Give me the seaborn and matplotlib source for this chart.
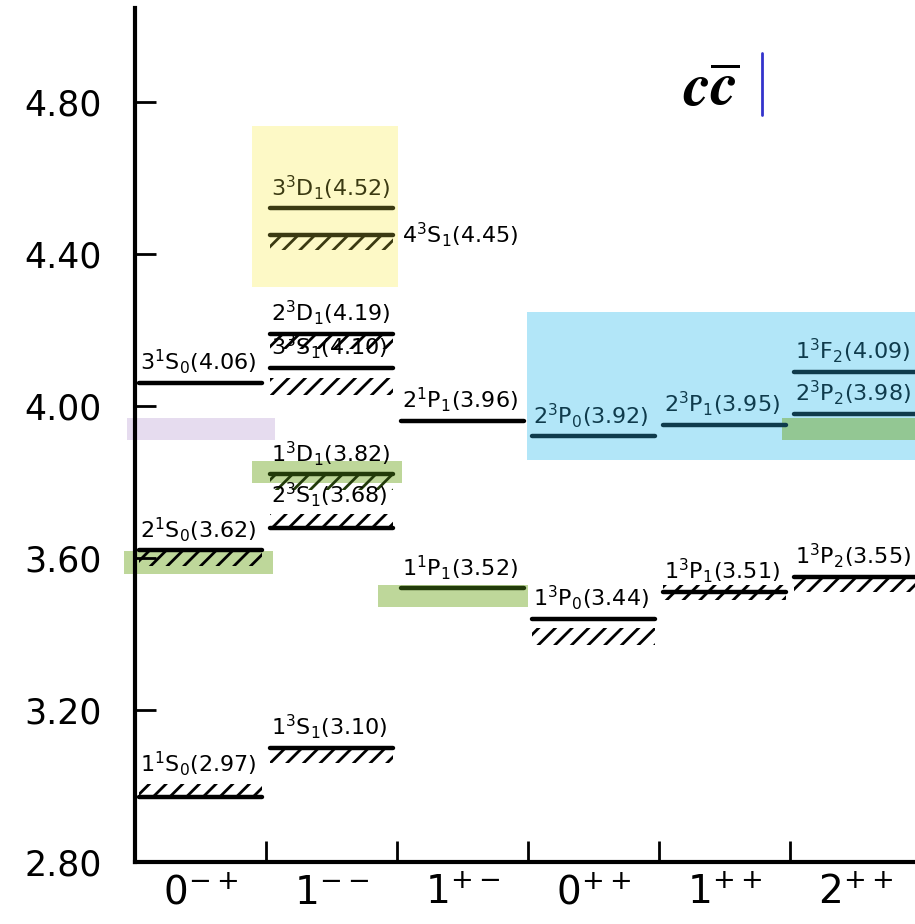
import pandas as pd
import seaborn as sns
import matplotlib.pyplot as plt
from matplotlib.patches import Rectangle

# J^PC columns of the level diagram
columns = ["0^{-+}", "1^{--}", "1^{+-}", "0^{++}", "1^{++}", "2^{++}"]

# charmonium states, predicted masses (GeV) and the column they sit in
states = ["1^1S_0", "2^1S_0", "3^1S_0",
          "1^3S_1", "2^3S_1", "1^3D_1", "3^3S_1", "2^3D_1", "4^3S_1", "3^3D_1",
          "1^1P_1", "2^1P_1",
          "1^3P_0", "2^3P_0",
          "1^3P_1", "2^3P_1",
          "1^3P_2", "2^3P_2", "1^3F_2"]
masses = [2.97, 3.62, 4.06,
          3.10, 3.68, 3.82, 4.10, 4.19, 4.45, 4.52,
          3.52, 3.96,
          3.44, 3.92,
          3.51, 3.95,
          3.55, 3.98, 4.09]
column_of = [0, 0, 0,
             1, 1, 1, 1, 1, 1, 1,
             2, 2,
             3, 3,
             4, 4,
             5, 5, 5]
# hatching drawn with the level (observed states)
hatching = ["above", "below", None,
            "below", "above", "below", "gap", "below", "below", None,
            None, None,
            "gap", None,
            "cross", None,
            "below", None, None]
yticks = [2.80, 3.20, 3.60, 4.00, 4.40, 4.80]

# coloured highlight boxes: x0, x1, y0, y1, fill, ink for marks inside
highlights = [
    (0.893, 2.008, 4.313, 4.737, "#fdf9c6", "#3b3a12"),
    (-0.061, 1.069, 3.911, 3.968, "#e6dcef", None),
    (2.992, 5.954, 3.858, 4.247, "#b2e6f8", "#0f3b4c"),
    (0.893, 2.038, 3.797, 3.855, "#bed79a", "#223b0a"),
    (-0.084, 1.053, 3.558, 3.618, "#bed79a", "#223b0a"),
    (1.855, 3.000, 3.471, 3.529, "#bed79a", "#223b0a"),
    (4.939, 5.954, 3.911, 3.968, "#93c793", None),
]


def ink_at(x, y):
    ink = "black"
    for x0, x1, y0, y1, _, c in highlights:
        if c and x0 <= x <= x1 and y0 <= y <= y1:
            ink = c
    return ink


sns.set_style("white")
plt.rcParams["font.family"] = ["DejaVu Sans"]
plt.rcParams["hatch.linewidth"] = 2.0
plt.rcParams["text.color"] = "black"
plt.rcParams["xtick.color"] = "black"
plt.rcParams["ytick.color"] = "black"

fig = plt.figure(figsize=(9.15, 9.24), dpi=100)
ax = fig.add_axes([135 / 915, 62 / 924, 780 / 915, 854 / 924])

for x0, x1, y0, y1, fc, _ in highlights:
    ax.add_patch(Rectangle((x0, y0), x1 - x0, y1 - y0, facecolor=fc,
                           edgecolor="none", zorder=0, clip_on=False))

# level segments, one row per end point
rows = []
for s, m, c in zip(states, masses, column_of):
    rows.append({"state": s, "x": c + 0.03, "mass": m})
    rows.append({"state": s, "x": c + 0.97, "mass": m})
seg = pd.DataFrame(rows)
palette = {s: ink_at(c + 0.5, m) for s, m, c in zip(states, masses, column_of)}
sns.lineplot(data=seg, x="x", y="mass", hue="state", units="state",
             estimator=None, palette=palette, linewidth=3.2, legend=False,
             ax=ax, zorder=3)

for s, m, c, h in zip(states, masses, column_of, hatching):
    ink = palette[s]
    band = {"above": (m, m + 0.035), "below": (m - 0.04, m),
            "gap": (m - 0.07, m - 0.025), "cross": (m - 0.02, m + 0.02)}
    if h:
        lo, hi = band[h]
        ax.fill_between([c + 0.03, c + 0.97], lo, hi, facecolor="none",
                        edgecolor=ink, hatch="//", linewidth=0, zorder=2)
    label = r"$\mathregular{" + s + f"({m:.2f})" + "}$"
    if s == "4^3S_1":
        ax.text(c + 1.04, m, label, fontsize=16, va="center", ha="left",
                color=ink_at(c + 1.5, m))
    else:
        ly = m + (0.05 if h == "above" else 0.018)
        ax.text(c + 0.04, ly, label, fontsize=16, va="bottom", ha="left",
                color=ink_at(c + 0.5, ly + 0.03))

ax.text(4.18, 4.79, r"$\mathbfit{c}\overline{\mathbfit{c}}$", fontsize=44,
        math_fontfamily="stix", ha="left", va="baseline")
ax.plot([4.786, 4.786], [4.766, 4.93], color="#3333cc", lw=2)

ax.set_xlim(0, 780 / 131)
ax.set_ylim(2.80, 2.80 + 854 / 380)
ax.set_xlabel("")
ax.set_ylabel("")
for side in ["top", "right"]:
    ax.spines[side].set_visible(False)
for side in ["left", "bottom"]:
    ax.spines[side].set_linewidth(3)
    ax.spines[side].set_color("black")

ax.set_yticks(yticks)
ax.set_yticklabels([f"{v:.2f}" for v in yticks])
ax.tick_params(axis="y", direction="in", length=15, width=2, pad=24,
               labelsize=25, left=True)
ax.set_xticks(range(1, len(columns)))
ax.set_xticklabels([])
ax.set_xticks([i + 0.5 for i in range(len(columns))], minor=True)
ax.set_xticklabels([r"$\mathregular{" + c + "}$" for c in columns], minor=True)
ax.tick_params(axis="x", which="major", direction="in", length=15, width=2,
               bottom=True)
ax.tick_params(axis="x", which="minor", length=0, pad=9, labelsize=28,
               bottom=True)

fig.savefig("out.png", dpi=100)
